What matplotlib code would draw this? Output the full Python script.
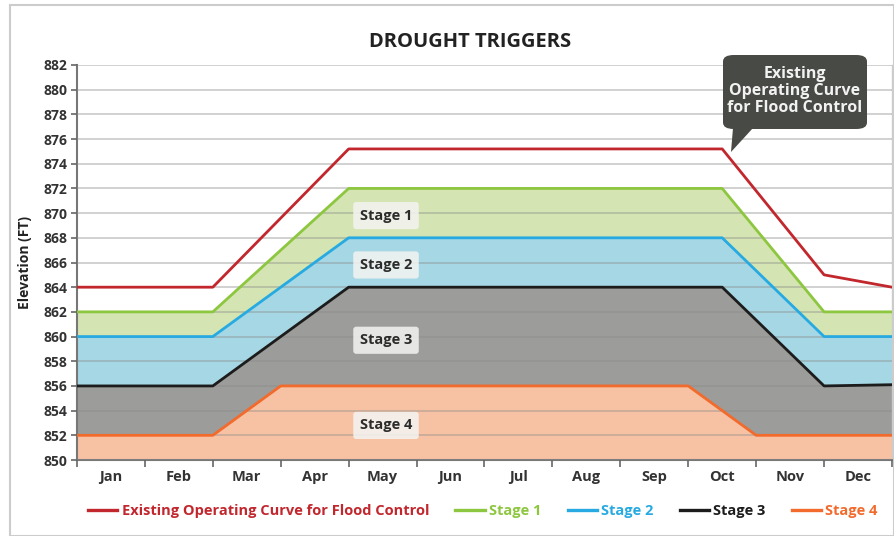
import numpy as np
import matplotlib
matplotlib.use("Agg")
import matplotlib.pyplot as plt
from matplotlib.patches import FancyBboxPatch, Polygon, Rectangle
from matplotlib.lines import Line2D

plt.rcParams['font.family'] = ['Open Sans', 'DejaVu Sans']

months = ['Jan', 'Feb', 'Mar', 'Apr', 'May', 'Jun', 'Jul', 'Aug', 'Sep', 'Oct', 'Nov', 'Dec']

flood_x = [0, 2, 4, 9.5, 11, 12]
flood_y = [864, 864, 875.2, 875.2, 865, 864]
stage1_x = [0, 2, 4, 9.5, 11, 12]
stage1_y = [862, 862, 872, 872, 862, 862]
stage2_x = [0, 2, 4, 9.5, 11, 12]
stage2_y = [860, 860, 868, 868, 860, 860]
stage3_x = [0, 2, 4, 9.5, 11, 12]
stage3_y = [856, 856, 864, 864, 856, 856.1]
stage4_x = [0, 2, 3, 9, 10, 12]
stage4_y = [852, 852, 856, 856, 852, 852]

stage_labels = ['Stage 1', 'Stage 2', 'Stage 3', 'Stage 4']
stage_label_y = [869.8, 865.8, 859.7, 852.8]
label_x = 4.55

line_colors = {'flood': '#c1272d', 's1': '#8dc63f', 's2': '#27aae1', 's3': '#1c1c1c', 's4': '#f26b2c'}
fill_colors = {'s1': '#d4e5b3', 's2': '#a6d7e4', 's3': '#9c9c9a', 's4': '#f7c2a3'}

fig = plt.figure(figsize=(8.94, 5.36), dpi=100)
W, H = 894, 536
ax = fig.add_axes([77 / W, 1 - 460 / H, (892 - 77) / W, (460 - 65) / H])

xx = np.unique(np.concatenate([stage1_x, stage2_x, stage3_x, stage4_x]))
s1 = np.interp(xx, stage1_x, stage1_y)
s2 = np.interp(xx, stage2_x, stage2_y)
s3 = np.interp(xx, stage3_x, stage3_y)
s4 = np.interp(xx, stage4_x, stage4_y)

ax.fill_between(xx, 850, s4, color=fill_colors['s4'], lw=0, zorder=1)
ax.fill_between(xx, s4, s3, color=fill_colors['s3'], lw=0, zorder=1)
ax.fill_between(xx, s3, s2, color=fill_colors['s2'], lw=0, zorder=1)
ax.fill_between(xx, s2, s1, color=fill_colors['s1'], lw=0, zorder=1)

lw = 2.0
ax.plot(flood_x, flood_y, color=line_colors['flood'], lw=lw, zorder=4)
ax.plot(stage1_x, stage1_y, color=line_colors['s1'], lw=lw, zorder=4)
ax.plot(stage2_x, stage2_y, color=line_colors['s2'], lw=lw, zorder=4)
ax.plot(stage3_x, stage3_y, color=line_colors['s3'], lw=lw, zorder=4)
ax.plot(stage4_x, stage4_y, color=line_colors['s4'], lw=lw, zorder=4)

for lab, yv in zip(stage_labels, stage_label_y):
    ax.text(label_x, yv, lab, ha='center', va='center', fontsize=10.5, fontweight='bold',
            color='#2b2b2b', zorder=5,
            bbox=dict(boxstyle='round,pad=0.45,rounding_size=0.2', fc='#f4f4f2', ec='none', alpha=0.85))

ax.set_xlim(0, 12)
ax.set_ylim(850, 882)
ax.set_yticks(np.arange(850, 883, 2))
ax.set_yticklabels([str(v) for v in range(850, 883, 2)], fontsize=10, fontweight='bold', color='#333333')
ax.set_xticks(np.arange(0, 13))
ax.set_xticklabels([])
ax.set_xticks(np.arange(0.5, 12, 1), minor=True)
ax.set_xticklabels(months, minor=True, fontsize=10.5, fontweight='bold', color='#333333')
ax.tick_params(axis='x', which='major', direction='out', length=5, width=1.2, color='#666666')
ax.tick_params(axis='x', which='minor', length=0, pad=7)
ax.tick_params(axis='y', direction='out', length=4, width=1.2, color='#666666', pad=3)

ax.set_axisbelow(False)
ax.yaxis.grid(True, color='#8a8a8a', lw=1.1, alpha=0.5)
ax.xaxis.grid(False)
for sp in ['left', 'bottom']:
    ax.spines[sp].set_color('#777777')
    ax.spines[sp].set_linewidth(1.5)
ax.spines['top'].set_visible(False)
ax.spines['right'].set_color('#cccccc')
ax.spines['right'].set_linewidth(1.0)

ax.set_ylabel('Elevation (FT)', fontsize=10, fontweight='bold', color='#222222')
ax.yaxis.set_label_coords(-0.055, 0.5)

fig.text(470 / W, 1 - 42 / H, 'DROUGHT TRIGGERS', ha='center', va='center',
         fontsize=14.5, fontweight='bold', color='#222222')

# figure border
fig.patches.append(Rectangle((10 / W, 0.0), (W - 10) / W, 1 - 5 / H, transform=fig.transFigure,
                             fill=False, ec='#cccccc', lw=1.5))

# callout box
box = FancyBboxPatch((723 / W, 1 - 129 / H), (867 - 723) / W, (129 - 55) / H,
                     boxstyle='round,pad=0,rounding_size=0.012', transform=fig.transFigure,
                     fc='#474a45', ec='none', zorder=10)
fig.patches.append(box)
tail = Polygon([(733 / W, 1 - 128 / H), (753 / W, 1 - 128 / H), (731 / W, 1 - 152 / H)],
               closed=True, transform=fig.transFigure, fc='#474a45', ec='none', zorder=10)
fig.patches.append(tail)
fig.text(795 / W, 1 - 91 / H, 'Existing\nOperating Curve\nfor Flood Control', ha='center', va='center',
         fontsize=11.5, fontweight='bold', color='#f2f2f2', linespacing=1.1, zorder=11)

handles = [Line2D([], [], color=line_colors[k], lw=2.4) for k in ['flood', 's1', 's2', 's3', 's4']]
leg_labels = ['Existing Operating Curve for Flood Control', 'Stage 1', 'Stage 2', 'Stage 3', 'Stage 4']
leg = fig.legend(handles, leg_labels, loc='center', bbox_to_anchor=(483 / W, 1 - 511 / H), ncol=5,
                 frameon=False, handlelength=2.0, handletextpad=0.3, columnspacing=1.8,
                 prop={'weight': 'bold', 'size': 10.5})
for t, k in zip(leg.get_texts(), ['flood', 's1', 's2', 's3', 's4']):
    t.set_color(line_colors[k])

fig.savefig('out.png', dpi=100)
